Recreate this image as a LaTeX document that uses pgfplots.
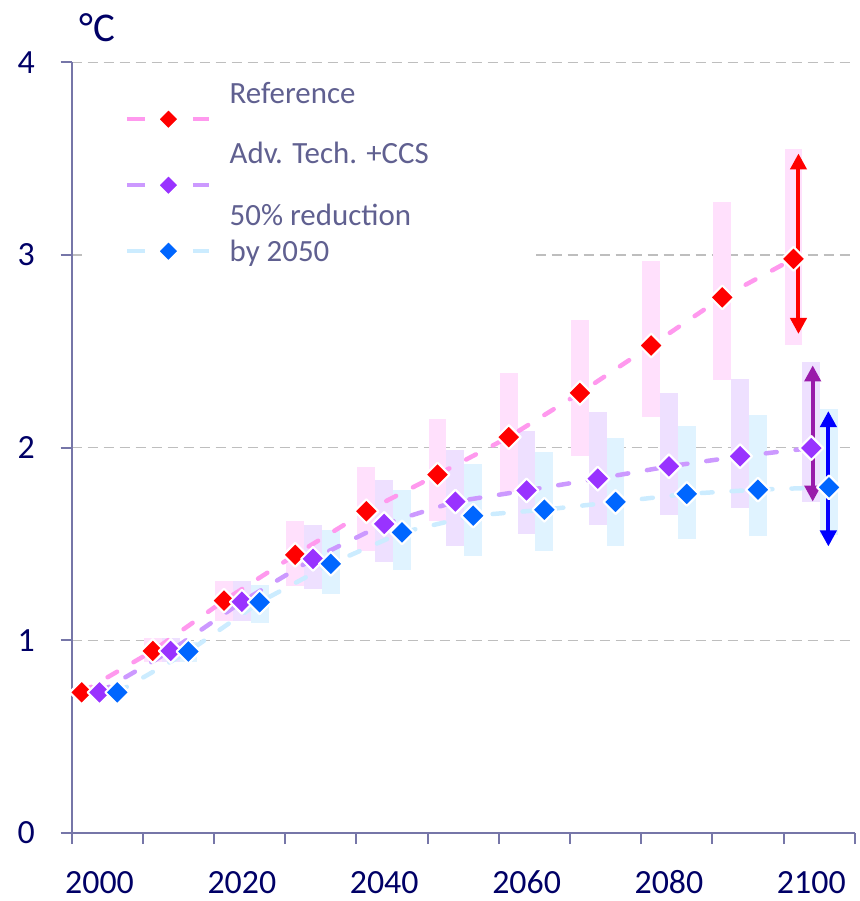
\documentclass[border=0pt]{standalone}
\usepackage{pgfplots}
\pgfplotsset{compat=1.18}
\usepackage{pgfplotstable}
\usepackage{fontspec}
\setmainfont{Carlito}
\usetikzlibrary{arrows.meta}

\definecolor{axiscol}{RGB}{118,118,168}
\definecolor{gridcol}{RGB}{190,190,190}
\definecolor{ticktext}{RGB}{0,0,102}
\definecolor{legtext}{RGB}{96,96,144}
\definecolor{pinkline}{RGB}{255,153,238}
\definecolor{purpline}{RGB}{204,153,255}
\definecolor{blueline}{RGB}{204,236,255}
\definecolor{redmk}{RGB}{255,0,0}
\definecolor{purpmk}{RGB}{153,51,255}
\definecolor{bluemk}{RGB}{0,102,255}
\definecolor{pinkband}{RGB}{255,224,252}
\definecolor{purpband}{RGB}{238,224,255}
\definecolor{blueband}{RGB}{224,243,255}
\definecolor{purparrow}{RGB}{153,26,170}
\definecolor{bluearrow}{RGB}{0,0,255}

\pgfplotstableread{
year val lo hi
2000 0.730 0.730 0.730
2010 0.945 0.890 1.010
2020 1.206 1.100 1.310
2030 1.444 1.280 1.620
2040 1.670 1.465 1.900
2050 1.860 1.620 2.150
2060 2.055 1.770 2.390
2070 2.284 1.955 2.665
2080 2.530 2.160 2.970
2090 2.780 2.350 3.275
2100 2.980 2.535 3.550
}\refdata
\pgfplotstableread{
year val lo hi
2000 0.730 0.730 0.730
2010 0.945 0.890 1.010
2020 1.200 1.100 1.310
2030 1.423 1.267 1.596
2040 1.604 1.404 1.830
2050 1.720 1.487 1.990
2060 1.778 1.550 2.088
2070 1.839 1.600 2.185
2080 1.903 1.650 2.284
2090 1.955 1.687 2.358
2100 1.998 1.720 2.444
}\advdata
\pgfplotstableread{
year val lo hi
2000 0.730 0.730 0.730
2010 0.942 0.890 0.990
2020 1.198 1.090 1.288
2030 1.397 1.240 1.574
2040 1.560 1.366 1.782
2050 1.647 1.440 1.917
2060 1.678 1.465 1.977
2070 1.718 1.490 2.050
2080 1.760 1.526 2.110
2090 1.782 1.540 2.170
2100 1.794 1.548 2.200
}\halfdata

\newcommand\legtxt[2]{\raisebox{#1}[33bp][33bp]{\makebox[263bp][l]{#2}}}

\begin{document}
\begin{tikzpicture}
\path[use as bounding box] (-71.7bp,-68bp) rectangle (788.3bp,833bp);
\begin{axis}[
  scale only axis, width=783bp, height=770.7bp,
  xmin=1998.6, xmax=2108.6, ymin=0, ymax=4,
  axis x line*=bottom, axis y line*=left,
  axis line style={draw=axiscol, line width=2bp, -},
  xtick={1998.6,2008.6,2018.6,2028.6,2038.6,2048.6,2058.6,2068.6,2078.6,2088.6,2098.6,2108.6},
  xticklabels={2000,,2020,,2040,,2060,,2080,,2100,},
  ytick={0,1,2,3,4},
  tick align=outside, major tick length=11bp,
  tick style={draw=axiscol, line width=2bp},
  ymajorgrids,
  grid style={draw=gridcol, line width=1.5bp, dash pattern=on 10bp off 6bp},
  /pgf/number format/assume math mode=true,
  tick label style={font=\fontsize{34}{40}\selectfont, text=ticktext},
  xticklabel style={anchor=base, inner sep=0pt, xshift=27.8bp, yshift=-49.3bp},
  yticklabel style={anchor=east, inner sep=0pt, xshift=-25.7bp},
  ylabel={°C},
  ylabel style={rotate=-90, at={(axis description cs:0.0100,1.0264)}, anchor=base west, font=\fontsize{41}{48}\selectfont, text=ticktext, inner sep=0pt},
  clip=false,
  legend style={at={(axis description cs:0.01315,0.99)}, anchor=north west, fill=white, draw=none,
    inner xsep=43bp, inner ysep=16bp, row sep=0pt, column sep=18bp, cells={anchor=west},
    nodes={inner sep=0pt, text depth=}, font=\fontsize{31}{36.7}\selectfont, text=legtext},
  legend image code/.code={
    \draw[#1, line cap=butt, dash pattern=on 18bp off 47.5bp] (0bp,0bp) -- (82bp,0bp);
    \path[#1, mark size=7.2bp] plot coordinates {(41bp,0bp)};
  },
  every axis plot/.append style={line join=round},
]
% uncertainty ranges
\addplot[forget plot, only marks, mark=none, error bars/.cd, y dir=both, y explicit, error mark=none,
  error bar style={line width=17.8bp, draw=pinkband}]
  table[x=year, y=val, y error plus expr=\thisrow{hi}-\thisrow{val}, y error minus expr=\thisrow{val}-\thisrow{lo}] {\refdata};
\addplot[forget plot, only marks, mark=none, error bars/.cd, y dir=both, y explicit, error mark=none,
  error bar style={line width=17.8bp, draw=purpband}]
  table[x expr=\thisrow{year}+2.5, y=val, y error plus expr=\thisrow{hi}-\thisrow{val}, y error minus expr=\thisrow{val}-\thisrow{lo}] {\advdata};
\addplot[forget plot, only marks, mark=none, error bars/.cd, y dir=both, y explicit, error mark=none,
  error bar style={line width=17.8bp, draw=blueband}]
  table[x expr=\thisrow{year}+5, y=val, y error plus expr=\thisrow{hi}-\thisrow{val}, y error minus expr=\thisrow{val}-\thisrow{lo}] {\halfdata};
% lines
\addplot[pinkline, line width=4.5bp, line cap=round, dash pattern=on 11bp off 19bp, mark=square*, mark size=8.4bp,
  mark options={solid, rotate=45, fill=redmk, draw=white, line width=2bp}]
  table[x=year, y=val] {\refdata};
\addlegendentry{\legtxt{16bp}{Reference}}
\addplot[purpline, line width=4.5bp, line cap=round, dash pattern=on 11bp off 19bp, mark=square*, mark size=8.4bp,
  mark options={solid, rotate=45, fill=purpmk, draw=white, line width=2bp}]
  table[x expr=\thisrow{year}+2.5, y=val] {\advdata};
\addlegendentry{\legtxt{22bp}{Adv. Tech. +CCS}}
\addplot[blueline, line width=4.5bp, line cap=round, dash pattern=on 11bp off 19bp, mark=square*, mark size=8.4bp,
  mark options={solid, rotate=45, fill=bluemk, draw=white, line width=2bp}]
  table[x expr=\thisrow{year}+5, y=val] {\halfdata};
\addlegendentry{\legtxt{-10.7bp}{\vbox{\hbox{50\% reduction}\hbox{by 2050}}}}
% markers on top
\addplot[forget plot, only marks, mark=square*, mark size=8.4bp,
  mark options={solid, rotate=45, fill=redmk, draw=white, line width=2bp}]
  table[x=year, y=val] {\refdata};
\addplot[forget plot, only marks, mark=square*, mark size=8.4bp,
  mark options={solid, rotate=45, fill=purpmk, draw=white, line width=2bp}]
  table[x expr=\thisrow{year}+2.5, y=val] {\advdata};
\addplot[forget plot, only marks, mark=square*, mark size=8.4bp,
  mark options={solid, rotate=45, fill=bluemk, draw=white, line width=2bp}]
  table[x expr=\thisrow{year}+5, y=val] {\halfdata};
% 2100 range arrows
\addplot[forget plot, draw=redmk, line width=4bp, <->, >={Triangle[width=16bp,length=16bp]}]
  coordinates {(2100.7,2.59) (2100.7,3.527)};
\addplot[forget plot, draw=purparrow, line width=4bp, <->, >={Triangle[width=16bp,length=16bp]}]
  coordinates {(2102.7,1.72) (2102.7,2.427)};
\addplot[forget plot, draw=bluearrow, line width=4bp, <->, >={Triangle[width=16bp,length=16bp]}]
  coordinates {(2104.9,1.487) (2104.9,2.19)};
\end{axis}
\end{tikzpicture}
\end{document}
